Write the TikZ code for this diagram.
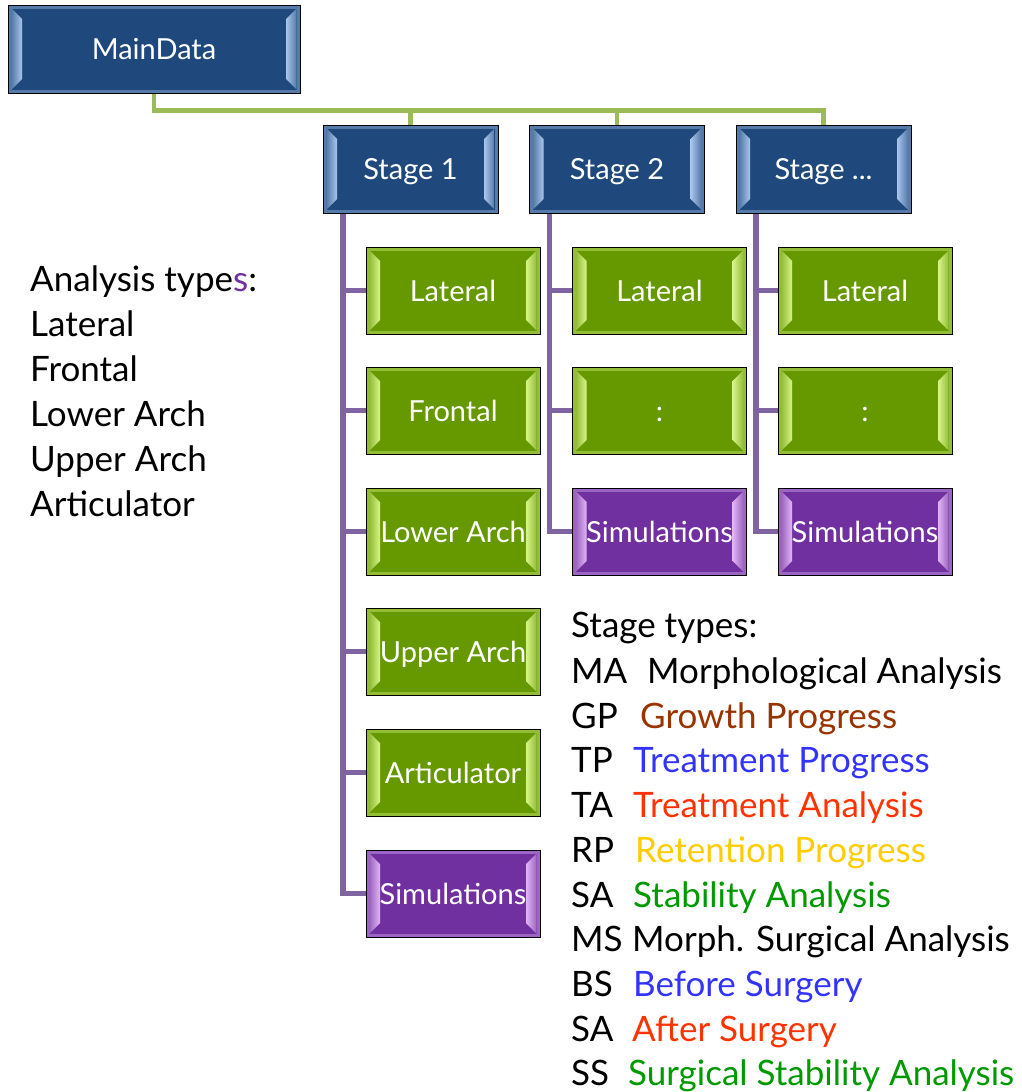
\documentclass[tikz,border=0pt]{standalone}
\usepackage{fontspec}
\setmainfont{Lato}
\usetikzlibrary{calc,backgrounds}
\definecolor{mdblue}{HTML}{1F497D}
\definecolor{mdbluelight}{HTML}{A9C6EC}
\definecolor{mdgreen}{HTML}{669900}
\definecolor{mdgreenlight}{HTML}{D8F58A}
\definecolor{mdpurple}{HTML}{7030A0}
\definecolor{mdpurplelight}{HTML}{E2B6F5}
\definecolor{buslinegreen}{HTML}{9BBB59}
\definecolor{buslinepurple}{HTML}{8064A2}
\definecolor{txtbrown}{HTML}{993300}
\definecolor{txtblue}{HTML}{3333FF}
\definecolor{txtred}{HTML}{FF3300}
\definecolor{txtyellow}{HTML}{FFCC00}
\definecolor{txtgreen}{HTML}{009900}
\tikzset{
  bevelbox/.style 2 args={draw=black, line width=1pt, fill=#1, text=white,
     font=\fontsize{29}{34}\selectfont, inner sep=0pt, text height=21pt, text depth=0pt,
     path picture={
       \coordinate (pnw) at (path picture bounding box.north west);
       \coordinate (pse) at (path picture bounding box.south east);
       \coordinate (psw) at (path picture bounding box.south west);
       \coordinate (pne) at (path picture bounding box.north east);
       \draw[#2, line width=3pt, opacity=0.4] ($(pnw)+(2pt,-2pt)$) rectangle ($(pse)+(-2pt,2pt)$);
       \shade[left color=#1!60!#2, right color=#2] ($(pnw)+(3.5pt,-3.5pt)$) -- ($(pnw)+(14pt,-14pt)$) -- ($(psw)+(14pt,14pt)$) -- ($(psw)+(3.5pt,3.5pt)$) -- cycle;
       \shade[left color=#2, right color=#1!60!#2] ($(pne)+(-14pt,-14pt)$) -- ($(pne)+(-3.5pt,-3.5pt)$) -- ($(pse)+(-3.5pt,3.5pt)$) -- ($(pse)+(-14pt,14pt)$) -- cycle;
     }},
  mainbox/.style={bevelbox={mdblue}{mdbluelight}, minimum width=292pt, minimum height=88pt},
  stagebox/.style={bevelbox={mdblue}{mdbluelight}, minimum width=175pt, minimum height=88pt},
  anbox/.style={bevelbox={mdgreen}{mdgreenlight}, minimum width=174pt, minimum height=87pt},
  simbox/.style={bevelbox={mdpurple}{mdpurplelight}, minimum width=174pt, minimum height=87pt},
  gline/.style={draw=buslinegreen, line width=4.5pt},
  pline/.style={draw=buslinepurple, line width=5.5pt},
  listtext/.style={anchor=base west, inner sep=0pt, font=\fontsize{35}{40}\selectfont},
}
\begin{document}
\begin{tikzpicture}[x=1pt,y=-1pt]
\useasboundingbox (0,0) rectangle (1021,1092);
% boxes
\node[mainbox] (main) at (154,49) {MainData};
\node[stagebox] (s1) at (410.5,169) {Stage 1};
\node[stagebox] (s2) at (617,169) {Stage 2};
\node[stagebox] (s3) at (823.5,169) {Stage ...};
\node[anbox] (lat1) at (453,290.5) {Lateral};
\node[anbox] (fro1) at (453,410.5) {Frontal};
\node[anbox] (low1) at (453,531.5) {Lower Arch};
\node[anbox] (upp1) at (453,651.5) {Upper Arch};
\node[anbox] (art1) at (453,772.5) {Articulator};
\node[simbox] (sim1) at (453,893.5) {Simulations};
\node[anbox] (lat2) at (659.5,290.5) {Lateral};
\node[anbox] (dot2) at (659.5,410.5) {:};
\node[simbox] (sim2) at (659.5,531.5) {Simulations};
\node[anbox] (lat3) at (865,290.5) {Lateral};
\node[anbox] (dot3) at (865,410.5) {:};
\node[simbox] (sim3) at (865,531.5) {Simulations};
% connectors
\begin{scope}[on background layer]
\coordinate (bus) at (154,110.5);
\draw[gline] (main.south) -- (bus) -| (s3.north);
\draw[gline] (bus -| s1.north) -- (s1.north);
\draw[gline] (bus -| s2.north) -- (s2.north);
\coordinate (v1) at (343,0);
\coordinate (v2) at (549.5,0);
\coordinate (v3) at (756,0);
\draw[pline] (s1.south -| v1) |- (sim1.west);
\foreach \n in {lat1,fro1,low1,upp1,art1}{\draw[pline] (v1 |- \n.west) -- (\n.west);}
\draw[pline] (s2.south -| v2) |- (sim2.west);
\foreach \n in {lat2,dot2}{\draw[pline] (v2 |- \n.west) -- (\n.west);}
\draw[pline] (s3.south -| v3) |- (sim3.west);
\foreach \n in {lat3,dot3}{\draw[pline] (v3 |- \n.west) -- (\n.west);}
\end{scope}
% analysis list
\node[listtext] (a0) at (30,291) {Analysis type\textcolor{mdpurple}{s}:};
\node[listtext] (a1) at (30,336) {Lateral};
\node[listtext] (a2) at (30,381) {Frontal};
\node[listtext] (a3) at (30,426) {Lower Arch};
\node[listtext] (a4) at (30,471) {Upper Arch};
\node[listtext] (a5) at (30,516) {Articulator};
% stage types
\node[listtext] (t0) at (571,637) {Stage types:};
\node[listtext] (k1) at (571,683) {MA};
\node[listtext] (d1) at (647,683) {Morphological Analysis};
\node[listtext] (k2) at (571,728) {GP};
\node[listtext, text=txtbrown] (d2) at (640,728) {Growth Progress};
\node[listtext] (k3) at (571,772) {TP};
\node[listtext, text=txtblue] (d3) at (633,772) {Treatment Progress};
\node[listtext] (k4) at (571,817) {TA};
\node[listtext, text=txtred] (d4) at (633,817) {Treatment Analysis};
\node[listtext] (k5) at (571,862) {RP};
\node[listtext, text=txtyellow] (d5) at (635,862) {Retention Progress};
\node[listtext] (k6) at (571,907) {SA};
\node[listtext, text=txtgreen] (d6) at (633,907) {Stability Analysis};
\node[listtext] (k7) at (571,951) {MS};
\node[listtext] (d7) at (632,951) {Morph. Surgical Analysis};
\node[listtext] (k8) at (571,996) {BS};
\node[listtext, text=txtblue] (d8) at (633,996) {Before Surgery};
\node[listtext] (k9) at (571,1041) {SA};
\node[listtext, text=txtred] (d9) at (632,1041) {After Surgery};
\node[listtext] (k10) at (571,1085) {SS};
\node[listtext, text=txtgreen] (d10) at (628,1085) {Surgical Stability Analysis};
\end{tikzpicture}
\end{document}
